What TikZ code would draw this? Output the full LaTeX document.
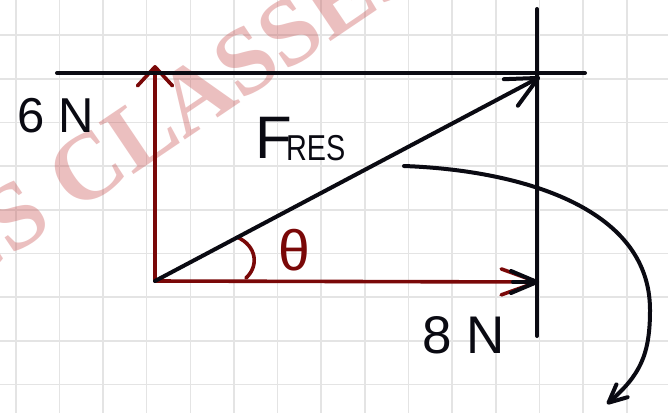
\documentclass[tikz,border=0pt]{standalone}
\usepackage{fontspec}
\setmainfont{Liberation Sans}
\newfontfamily\wmserif{Liberation Serif}
\usetikzlibrary{arrows.meta}
\definecolor{gridgray}{RGB}{228,228,228}
\definecolor{inkblack}{RGB}{10,10,18}
\definecolor{inkred}{RGB}{122,8,8}
\definecolor{wmred}{RGB}{200,80,80}
\begin{document}
\begin{tikzpicture}[x=1pt,y=-1pt,
  gridline/.style={draw=gridgray,line width=1.6pt},
  blk/.style={draw=inkblack,line width=4pt,line cap=round,line join=round},
  redv/.style={draw=inkred,line width=3.6pt,line cap=round,line join=round},
  wm/.style={text=wmred,text opacity=0.36,inner sep=0pt,rotate=34,font={\wmserif\bfseries\fontsize{95pt}{95pt}\selectfont}},
  lbl/.style={inner sep=0pt,text=inkblack},
]
\useasboundingbox (0,0) rectangle (668,413);
\fill[white] (0,0) rectangle (668,413);
\clip (0,0) rectangle (668,413);
% grid
\foreach \i in {0,...,15} \draw[gridline] ({15.7+43.65*\i},0) -- ({15.7+43.65*\i},413);
\foreach \j in {-1,...,8} \draw[gridline] (0,{35.2+43.65*\j}) -- (668,{35.2+43.65*\j});
% watermark
\node[wm,anchor=base west] (wmA) at (75,214) {CLASSES};
\node[wm,anchor=base east] (wmB) at (55.3,227.3) {ICS};
% points
\coordinate (O) at (155,281);
\coordinate (U) at (155,65);
\coordinate (R) at (539,282);
\coordinate (Rb) at (513,282);
\coordinate (D) at (540,77);
\coordinate (HL) at (57,73);
\coordinate (HR) at (585,73);
\coordinate (VT) at (537,9);
\coordinate (VB) at (537,336);
\coordinate (CA) at (404,166);
\coordinate (CB) at (650,310);
\coordinate (CE) at (607,404);
% red vectors
\draw[redv,-{Straight Barb[length=19pt,width=35pt,round]}] (O) -- (U);
\draw[redv,-{Straight Barb[length=36pt,width=26pt,round]}] (O) -- (R);
\draw[redv] (237,237) .. controls (257,246) and (259,266) .. (246,278);
\node[inner sep=0pt,text=inkred,font=\fontsize{57pt}{57pt}\selectfont] (theta) at (294,250) {θ};
% black lines
\draw[blk] (HL) -- (HR);
\draw[blk] (VT) -- (VB);
\draw[blk,-{Straight Barb[length=31pt,width=30pt,round]}] (O) -- (D);
\draw[blk,-{Straight Barb[length=26pt,width=22pt,round]}] (Rb) -- (R);
\draw[blk,-{Straight Barb[length=18pt,width=17pt,round]}] (CA) .. controls (515,170) and (650,205) .. (CB) .. controls (650,355) and (640,375) .. (CE);
% labels
\node[lbl,font=\fontsize{49pt}{49pt}\selectfont] (six) at (56,116) {6\hspace{14pt}N};
\node[lbl,font=\fontsize{53pt}{53pt}\selectfont] (eight) at (464,335) {8 N};
\node[lbl,anchor=base west,font=\fontsize{60pt}{60pt}\selectfont] (fF) at (255,158) {F};
\node[lbl,anchor=base west,xscale=0.8,font=\fontsize{36pt}{36pt}\selectfont] (fres) at (286,160) {RES};
\end{tikzpicture}
\end{document}
